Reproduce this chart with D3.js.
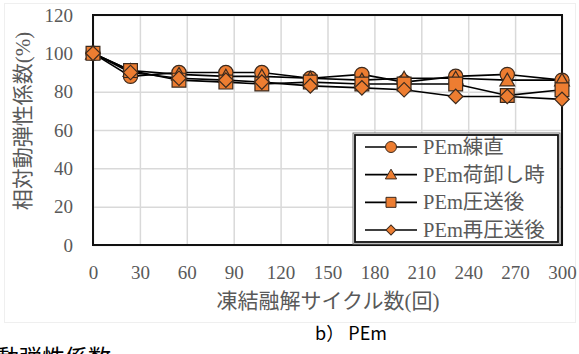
<!DOCTYPE html>
<html>
<head>
<meta charset="utf-8">
<script src="https://cdn.jsdelivr.net/npm/d3@7"></script>
<style>
  html, body { margin: 0; padding: 0; background: #fff; overflow: hidden; }
  svg { display: block; }
</style>
</head>
<body>
<div id="chart"></div>
<script>
// 凍結融解サイクル数
var cycles = [0, 24, 55, 85, 108, 139, 172, 199, 232, 265, 300];
// 相対動弾性係数(%)
var seriesNames = ["PEm練直", "PEm荷卸し時", "PEm圧送後", "PEm再圧送後"];
var seriesShapes = ["circle", "triangle", "square", "diamond"];
var valNeri = [100, 88, 90, 90, 90, 87, 89, 85, 88, 89, 86];
var valNioroshi = [100, 91, 89, 88, 88, 87, 86, 87, 87, 86, 86];
var valAtsuso = [100, 91, 86, 85, 84, 85, 84, 84, 84, 78, 81];
var valSaiAtsuso = [100, 90, 87, 86, 85, 83, 82, 81, 77.5, 77.5, 76];
var xTicks = [0, 30, 60, 90, 120, 150, 180, 210, 240, 270, 300];
var yTicks = [0, 20, 40, 60, 80, 100, 120];

var WIDTH = 579, HEIGHT = 354;
var margin = { left: 93, right: 17, top: 15, bottom: 108 };
var FILL = "#ED7D31";
var SERIF = "'Liberation Serif', 'Times New Roman', 'Noto Sans CJK JP', serif";
var GOTHIC = "'Noto Sans CJK JP', sans-serif";

var svg = d3.select("#chart").append("svg")
    .attr("width", WIDTH)
    .attr("height", HEIGHT);

// 外枠(薄い)
svg.append("rect")
    .attr("x", 4.5).attr("y", 3.5)
    .attr("width", 571).attr("height", 319)
    .attr("fill", "none")
    .attr("stroke", "#efefef");

var x = d3.scaleLinear().domain([0, 300]).range([margin.left, WIDTH - margin.right]);
var y = d3.scaleLinear().domain([0, 120]).range([HEIGHT - margin.bottom - 1, margin.top]);

// グリッド
svg.append("g")
    .attr("transform", "translate(0," + y(0) + ")")
    .call(d3.axisBottom(x).tickValues(xTicks).tickSize(-(y(0) - y(120))).tickFormat(""))
    .call(function (g) {
        g.select(".domain").remove();
        g.selectAll("line").attr("stroke", "#d9d9d9").attr("stroke-width", 1.5);
    });
svg.append("g")
    .attr("transform", "translate(" + x(0) + ",0)")
    .call(d3.axisLeft(y).tickValues(yTicks).tickSize(-(x(300) - x(0))).tickFormat(""))
    .call(function (g) {
        g.select(".domain").remove();
        g.selectAll("line").attr("stroke", "#d9d9d9").attr("stroke-width", 1.5);
    });

// 軸ラベル(目盛)
var xAxis = svg.append("g")
    .attr("transform", "translate(0," + y(0) + ")")
    .call(d3.axisBottom(x).tickValues(xTicks).tickSize(0).tickPadding(21).tickFormat(d3.format("d")));
xAxis.select(".domain").remove();
xAxis.selectAll("text")
    .attr("font-family", SERIF).attr("font-size", "19px").attr("fill", "#595959");

var yAxis = svg.append("g")
    .attr("transform", "translate(" + x(0) + ",0)")
    .call(d3.axisLeft(y).tickValues(yTicks).tickSize(0).tickPadding(20).tickFormat(d3.format("d")));
yAxis.select(".domain").remove();
yAxis.selectAll("text")
    .attr("font-family", SERIF).attr("font-size", "19px").attr("fill", "#595959");

// プロット枠
svg.append("rect")
    .attr("x", x(0)).attr("y", y(120))
    .attr("width", x(300) - x(0)).attr("height", y(0) - y(120))
    .attr("fill", "none")
    .attr("stroke", "#111")
    .attr("stroke-width", 2);

// 軸タイトル
svg.append("text")
    .attr("x", 328).attr("y", 308)
    .attr("text-anchor", "middle")
    .attr("font-family", SERIF).attr("font-size", "21px").attr("fill", "#595959")
    .text("凍結融解サイクル数(回)");
svg.append("text")
    .attr("transform", "translate(30," + 121 + ") rotate(-90)")
    .attr("text-anchor", "middle")
    .attr("font-family", SERIF).attr("font-size", "21px").attr("fill", "#595959")
    .text("相対動弾性係数(%)");

// 系列
var seriesValues = [valNeri, valNioroshi, valAtsuso, valSaiAtsuso];
var symbolTypes = {
    circle: d3.symbolCircle,
    triangle: d3.symbolTriangle,
    square: d3.symbolSquare,
    diamond: d3.symbolSquare   // 45度回転して菱形にする
};
var symbolSizes = { circle: 160, triangle: 95, square: 190, diamond: 105 };

var line = d3.line()
    .x(function (d) { return x(d[0]); })
    .y(function (d) { return y(d[1]); });

function pointsOf(vals) {
    return cycles.map(function (c, i) { return [c, vals[i]]; });
}

function markerTransform(px, py, shape) {
    var t = "translate(" + px + "," + (py + (shape === "triangle" ? 1.5 : 0)) + ")";
    if (shape === "diamond") t += " rotate(45)";
    return t;
}

// 線を先に描いてからマーカーを重ねる
seriesValues.forEach(function (vals) {
    svg.append("path")
        .datum(pointsOf(vals))
        .attr("d", line)
        .attr("fill", "none")
        .attr("stroke", "#000")
        .attr("stroke-width", 1.6);
});

seriesValues.forEach(function (vals, si) {
    var shape = seriesShapes[si];
    var sym = d3.symbol().type(symbolTypes[shape]).size(symbolSizes[shape]);
    svg.append("g").selectAll("path")
        .data(pointsOf(vals))
        .enter()
        .append("path")
        .attr("transform", function (d) { return markerTransform(x(d[0]), y(d[1]), shape); })
        .attr("d", sym)
        .attr("fill", FILL)
        .attr("stroke", "#3b2a1e")
        .attr("stroke-width", 1.2);
});

// 凡例
var legend = svg.append("g");
legend.append("rect")
    .attr("x", 353).attr("y", 133)
    .attr("width", 207).attr("height", 111)
    .attr("fill", "#fff")
    .attr("stroke", "#777")
    .attr("stroke-width", 1);
legend.append("rect")
    .attr("x", 355).attr("y", 135)
    .attr("width", 203).attr("height", 107)
    .attr("fill", "#fff")
    .attr("stroke", "#111")
    .attr("stroke-width", 1.8);

var legendRowY = d3.scalePoint().domain(seriesNames).range([147, 230]);
var legendSizes = { circle: 95, triangle: 55, square: 100, diamond: 50 };
seriesNames.forEach(function (name, si) {
    var ly = legendRowY(name);
    var shape = seriesShapes[si];
    legend.append("line")
        .attr("x1", 365).attr("x2", 417)
        .attr("y1", ly).attr("y2", ly)
        .attr("stroke", "#000").attr("stroke-width", 1.6);
    legend.append("path")
        .attr("transform", markerTransform(391, ly - (shape === "triangle" ? 0.5 : 0), shape))
        .attr("d", d3.symbol().type(symbolTypes[shape]).size(legendSizes[shape]))
        .attr("fill", FILL)
        .attr("stroke", "#3b2a1e")
        .attr("stroke-width", 1);
    legend.append("text")
        .attr("x", 423).attr("y", ly + 7)
        .attr("font-family", SERIF).attr("font-size", "20.5px").attr("fill", "#595959")
        .text(name);
});

// キャプション
svg.append("text")
    .attr("x", 351).attr("y", 340)
    .attr("text-anchor", "middle")
    .attr("font-family", GOTHIC).attr("font-size", "18px").attr("fill", "#000")
    .text("b） PEm");

// 下端で切れている見出し
svg.append("text")
    .attr("x", -4).attr("y", 366)
    .attr("font-family", GOTHIC).attr("font-size", "23px").attr("fill", "#000")
    .text("動弾性係数");
</script>
</body>
</html>
